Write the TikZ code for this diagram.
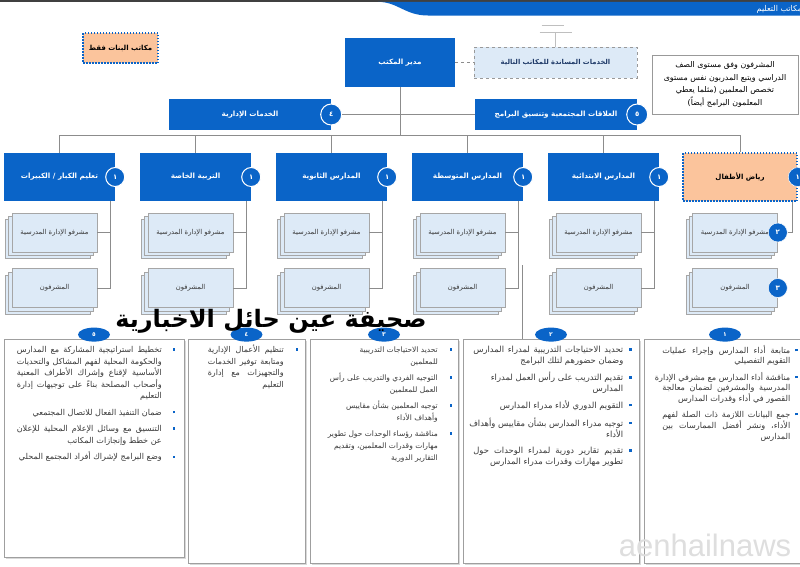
\documentclass[tikz,border=0pt]{standalone}
\usepackage{fontspec}
\usepackage{array}
\usepackage{tikz}
\usetikzlibrary{positioning, calc, shapes.geometric}
\TeXXeTstate=1
\newfontfamily\arabicfont[Script=Arabic]{DejaVu Sans}
\newfontfamily\markfont{Liberation Sans}

\definecolor{obBlue}{HTML}{0A64C8}
\definecolor{stackFill}{HTML}{DDEAF7}
\definecolor{peach}{HTML}{FBC49C}
\definecolor{lineGray}{HTML}{8C8C8C}
\definecolor{textGray}{HTML}{3A3A3A}
\definecolor{navyText}{HTML}{1F3A68}

\newcommand\bul{\textcolor{obBlue}{\rule[2pt]{2.4pt}{2.4pt}}}
% justified line, width \jw is set in each panel
\newcommand\jl[1]{\sbox0{#1}\ifdim\wd0<\jw\makebox[\jw][s]{#1}\else\makebox[\jw][r]{#1}\fi}

\tikzset{
  conn/.style={draw=lineGray, line width=1pt},
  bluebox/.style={fill=obBlue, text=white, inner sep=2pt,
    font=\arabicfont\bfseries\fontsize{7.2}{9}\selectfont},
  deptbox/.style={bluebox, minimum width=111, minimum height=48},
  peachbox/.style={fill=peach, draw=obBlue, line width=1.5pt,
    dash pattern=on 1.5pt off 1.5pt, text=black,
    font=\arabicfont\bfseries\fontsize{7}{9}\selectfont},
  ring/.style={circle, fill=obBlue, draw=white, line width=1pt,
    minimum size=19, inner sep=0pt, text=white,
    font=\arabicfont\bfseries\fontsize{7}{7}\selectfont},
  dotbadge/.style={ring, line width=0.5pt},
  stackback/.style={fill=stackFill, draw=gray!70, line width=0.6pt},
  stackfront/.style={stackback, minimum width=85, minimum height=39,
    inner sep=1pt, text=textGray, font=\arabicfont\fontsize{6.8}{8}\selectfont},
  panel/.style={fill=white, draw=gray!75, line width=0.8pt},
  pbadge/.style={ellipse, fill=obBlue, text=white, minimum width=32,
    minimum height=14, inner sep=0pt,
    font=\arabicfont\bfseries\fontsize{6}{6}\selectfont},
  ptext/.style={anchor=north east, inner sep=0pt, text=textGray,
    font=\arabicfont\fontsize{8}{11}\selectfont}
}

% three sheets, the front one is named
\newcommand\stackbox[3]{%
  \foreach \o in {6.6,3.3}
    \draw[stackback] ([shift={(-\o,\o)}]#2) +(-42.5,-19.5) rectangle +(42.5,19.5);
  \node[stackfront] (#1) at (#2) {#3};
}

\begin{document}
\begin{tikzpicture}[x=1pt, y=-1pt]
\useasboundingbox (0,0) rectangle (800,566);

% top banner
\fill[black!75] (0,0) rectangle (800,1.8);
\fill[obBlue] (378,1.8) .. controls (398,2) and (405,15.5) .. (428,15.5) -- (800,15.5) -- (800,1.8) -- cycle;
\node[anchor=east, inner sep=0pt, text=white, font=\arabicfont\fontsize{8}{9}\selectfont] (title) at (802,9)
  {\beginR مكاتب التعليم\endR};

% office head and support
\node[bluebox, minimum width=110, minimum height=49] (head) at (400,62.5) {\beginR مدير المكتب\endR};
\node[fill=stackFill, draw=gray!80, dashed, line width=1pt, minimum width=163, minimum height=31,
  text=navyText, font=\arabicfont\bfseries\fontsize{6.8}{8}\selectfont] (support) at (555.5,62.5)
  {\beginR الخدمات المساندة للمكاتب التالية\endR};
\draw[conn, dashed] (head) -- (support);
\draw[conn, draw=gray!50] (support.north) -- ++(0,-14) coordinate (gnd);
\draw[conn, draw=gray!50] ([xshift=-16pt]gnd) -- ([xshift=16pt]gnd);
\draw[conn, draw=gray!50] ([shift={(-14,-7)}]gnd) -- ([shift={(8,-7)}]gnd);

\node[draw=gray!80, line width=0.8pt, align=center, minimum width=146, minimum height=59, inner sep=2pt,
  font=\arabicfont\fontsize{7.9}{12.5}\selectfont] (note) at (725,84.5)
  {\beginR المشرفون وفق مستوى الصف\endR\\ \beginR الدراسي ويتبع المدربون نفس مستوى\endR\\
   \beginR تخصص المعلمين (مثلما يعطي\endR\\ \beginR المعلمون البرامج أيضاً)\endR};

\node[peachbox, minimum width=75, minimum height=30] (girls) at (120.5,48) {\beginR مكاتب البنات فقط\endR};

% second level
\node[bluebox, minimum width=162, minimum height=31] (admin) at (250,114.5) {\beginR الخدمات الإدارية\endR};
\node[ring, minimum size=21] (n4) at (admin.east) {٤};
\node[bluebox, minimum width=162, minimum height=31] (social) at (556,114.5)
  {\beginR العلاقات المجتمعية وتنسيق البرامج\endR};
\node[ring, minimum size=21] (n5) at (social.east) {٥};
\coordinate (bus) at (400,135);
\draw[conn] (head) -- (bus);
\draw[conn] (n4) -- (social);

% departments
\foreach \i/\cx/\txt in {1/59.5/{\beginR تعليم الكبار / الكبيرات\endR},
    2/195.5/{\beginR التربية الخاصة\endR}, 3/331.5/{\beginR المدارس الثانوية\endR},
    4/467.5/{\beginR المدارس المتوسطة\endR}, 5/603.5/{\beginR المدارس الابتدائية\endR}}{
  \node[deptbox] (d\i) at (\cx,177) {\txt};
  \node[ring] (dr\i) at (d\i.east) {١};
  \stackbox{s\i}{\cx-5,232.5}{\beginR مشرفو الإدارة المدرسية\endR}
  \stackbox{m\i}{\cx-5,288}{\beginR المشرفون\endR}
  \draw[conn] (d\i.north) |- (bus);
  \draw[conn] ([xshift=-4.5pt]d\i.south east) |- (s\i.east);
  \draw[conn] ([xshift=-4.5pt]d\i.south east) |- (m\i.east);
}

% kindergarten
\node[peachbox, minimum width=114, minimum height=48] (d6) at (740,177) {\beginR رياض الأطفال\endR};
\node[dotbadge] (dr6) at (d6.east) {١};
\stackbox{s6}{735,232.5}{\beginR مشرفو الإدارة المدرسية\endR}
\stackbox{m6}{735,288}{\beginR المشرفون\endR}
\node[dotbadge] (b2) at (s6.east) {٢};
\node[dotbadge] (b3) at (m6.east) {٣};
\draw[conn] (d6.north) |- (bus);
\draw[conn] ([xshift=-5pt]d6.south east) |- (b2.east);

% bottom panels
\foreach \i/\xa/\xb/\yb/\dg in {1/644/806/563/١, 2/463/639/563/٢, 3/310/458/563/٣,
    4/188/305/563/٤, 5/4/184/557/٥}{
  \fill[gray!30] (\xa+1.5,340.5) rectangle (\xb+1.5,\yb+1.5);
  \node[panel, minimum width=\xb-\xa, minimum height=\yb-339] (pan\i) at ({(\xa+\xb)/2},{(339+\yb)/2}) {};
  \node[pbadge] (pb\i) at ([yshift=4pt]pan\i.north) {\dg};
}
\coordinate (lnk) at (522,265);
\draw[conn] (lnk) -- (lnk |- pan2.north);

\node[ptext, font=\arabicfont\fontsize{8.1}{10.5}\selectfont] (txt1) at ([shift={(-8.5,6.5)}]pan1.north east)
{\def\jw{128pt}\begin{tabular}{@{}r@{\hspace{5pt}}c@{}}
\jl{\beginR متابعة أداء المدارس وإجراء عمليات\endR} & \bul\\
\beginR التقويم التفصيلي\endR & \\[5pt]
\jl{\beginR مناقشة أداء المدارس مع مشرفي الإدارة\endR} & \bul\\
\jl{\beginR المدرسية والمشرفين لضمان معالجة\endR} & \\
\beginR القصور في أداء وقدرات المدارس\endR & \\[5pt]
\jl{\beginR جمع البيانات اللازمة ذات الصلة لفهم\endR} & \bul\\
\jl{\beginR الأداء، ونشر أفضل الممارسات بين\endR} & \\
\beginR المدارس\endR &
\end{tabular}};

\node[ptext, font=\arabicfont\fontsize{8.4}{10.5}\selectfont] (txt2) at ([shift={(-7.5,6.5)}]pan2.north east)
{\def\jw{150pt}\begin{tabular}{@{}r@{\hspace{6pt}}c@{}}
\jl{\beginR تحديد الاحتياجات التدريبية لمدراء المدارس\endR} & \bul\\
\beginR وضمان حضورهم لتلك البرامج\endR & \\[6pt]
\beginR تقديم التدريب على رأس العمل لمدراء\endR & \bul\\
\beginR المدارس\endR & \\[6pt]
\beginR التقويم الدوري لأداء مدراء المدارس\endR & \bul\\[6pt]
\jl{\beginR توجيه مدراء المدارس بشأن مقاييس وأهداف\endR} & \bul\\
\beginR الأداء\endR & \\[6pt]
\jl{\beginR تقديم تقارير دورية لمدراء الوحدات حول\endR} & \bul\\
\beginR تطوير مهارات وقدرات مدراء المدارس\endR &
\end{tabular}};

\node[ptext, font=\arabicfont\fontsize{7.5}{12}\selectfont] (txt3) at ([shift={(-6,5.5)}]pan3.north east)
{\begin{tabular}{@{}r@{\hspace{12pt}}c@{}}
\beginR تحديد الاحتياجات التدريبية\endR & \bul\\
\beginR للمعلمين\endR & \\[4pt]
\beginR التوجيه الفردي والتدريب على رأس\endR & \bul\\
\beginR العمل للمعلمين\endR & \\[4pt]
\beginR توجيه المعلمين بشأن مقاييس\endR & \bul\\
\beginR وأهداف الأداء\endR & \\[4pt]
\beginR مناقشة رؤساء الوحدات حول تطوير\endR & \bul\\
\beginR مهارات وقدرات المعلمين، وتقديم\endR & \\
\beginR التقارير الدورية\endR &
\end{tabular}};

\node[ptext, font=\arabicfont\fontsize{8}{11.5}\selectfont] (txt4) at ([shift={(-7,6)}]pan4.north east)
{\def\jw{76pt}\begin{tabular}{@{}r@{\hspace{12pt}}c@{}}
\jl{\beginR تنظيم الأعمال الإدارية\endR} & \bul\\
\jl{\beginR ومتابعة توفير الخدمات\endR} & \\
\jl{\beginR والتجهيزات مع إدارة\endR} & \\
\beginR التعليم\endR &
\end{tabular}};

\node[ptext, font=\arabicfont\fontsize{8.1}{11.5}\selectfont] (txt5) at ([shift={(-9,6)}]pan5.north east)
{\def\jw{145pt}\begin{tabular}{@{}r@{\hspace{11pt}}c@{}}
\jl{\beginR تخطيط استراتيجية المشاركة مع المدارس\endR} & \bul\\
\jl{\beginR والحكومة المحلية لفهم المشاكل والتحديات\endR} & \\
\jl{\beginR الأساسية لإقناع وإشراك الأطراف المعنية\endR} & \\
\jl{\beginR وأصحاب المصلحة بناءً على توجيهات إدارة\endR} & \\
\beginR التعليم\endR & \\[5pt]
\beginR ضمان التنفيذ الفعال للاتصال المجتمعي\endR & \bul\\[5pt]
\jl{\beginR التنسيق مع وسائل الإعلام المحلية للإعلان\endR} & \bul\\
\beginR عن خطط وإنجازات المكاتب\endR & \\[5pt]
\beginR وضع البرامج لإشراك أفراد المجتمع المحلي\endR & \bul
\end{tabular}};

% watermarks
\node[inner sep=0pt, font=\arabicfont\bfseries\fontsize{24}{24}\selectfont] (wmark) at (271,321)
  {\beginR صحيفة عين حائل الاخبارية\endR};
\node[inner sep=0pt, text=black!13, font=\markfont\fontsize{31}{31}\selectfont] (site) at (705,545) {aenhailnaws};
\end{tikzpicture}
\end{document}
